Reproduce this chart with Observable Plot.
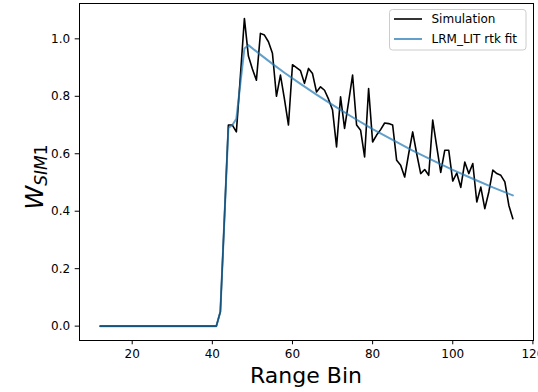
<!DOCTYPE html>
<html><head><meta charset="utf-8">
<script src="https://cdn.jsdelivr.net/npm/d3@7"></script>
<script src="https://cdn.jsdelivr.net/npm/@observablehq/plot@0.6"></script>
<style>body{margin:0;background:#fff;} #chart svg{display:block}</style>
</head><body><div id="chart"></div>
<script>
// Range bins start at 12 (one value per bin)
const startBin = 12;
const simValues = [
  0,0,0,0,0,0,0,0,0,0, 0,0,0,0,0,0,0,0,0,0, 0,0,0,0,0,0,0,0,0,0,
  0.05, 0.37, 0.70, 0.70, 0.676, 0.87, 1.071, 0.94, 0.895, 0.856,
  1.019, 1.013, 0.99, 0.95, 0.80, 0.874, 0.79, 0.70, 0.91, 0.90,
  0.889, 0.845, 0.897, 0.879, 0.815, 0.833, 0.821, 0.79, 0.752, 0.624,
  0.798, 0.688, 0.78, 0.874, 0.70, 0.682, 0.589, 0.827, 0.641, 0.665,
  0.684, 0.707, 0.705, 0.70, 0.577, 0.56, 0.519, 0.60, 0.676, 0.60,
  0.531, 0.545, 0.525, 0.717, 0.625, 0.535, 0.612, 0.612, 0.505, 0.533,
  0.483, 0.571, 0.531, 0.566, 0.432, 0.484, 0.409, 0.467, 0.543, 0.531,
  0.525, 0.502, 0.42, 0.374
];
const fitBins   = [12, 41, 42, 43, 44, 45, 46, 47, 48, 49, 52, 55, 58, 62, 66, 70, 75, 80, 85, 90, 95, 100, 105, 110, 115];
const fitValues = [0, 0, 0.05, 0.37, 0.69, 0.70, 0.722, 0.845, 0.966, 0.978, 0.945, 0.913, 0.882, 0.843, 0.806, 0.770, 0.727, 0.686, 0.648, 0.611, 0.577, 0.544, 0.513, 0.483, 0.455];
const xTicks = [20, 40, 60, 80, 100, 120];
const yTicks = [0, 0.2, 0.4, 0.6, 0.8, 1.0];
const seriesNames = ["Simulation", "LRM_LIT rtk fit"];
const seriesColors = ["black", "#1f77b4"];

const sim = simValues.map((v, i) => ({bin: startBin + i, value: v}));
const fit = fitBins.map((b, i) => ({bin: b, value: fitValues[i]}));

const svg = Plot.plot({
  width: 538, height: 392,
  marginLeft: 79, marginRight: 5, marginTop: 3, marginBottom: 52,
  style: {fontFamily: "DejaVu Sans", fontSize: "12px", color: "black", background: "white", overflow: "hidden"},
  x: {domain: [6.85, 120.15], ticks: xTicks, tickSize: 4.3, tickPadding: 5, label: null, tickFormat: "d"},
  y: {domain: [-0.05, 1.123], ticks: yTicks, tickSize: 4.3, tickPadding: 5, label: null, tickFormat: ".1f"},
  marks: [
    Plot.lineY(sim, {x: "bin", y: "value", stroke: seriesColors[0], strokeWidth: 1.6}),
    Plot.lineY(fit, {x: "bin", y: "value", stroke: seriesColors[1], strokeOpacity: 0.7, strokeWidth: 2}),
    Plot.frame({stroke: "black", strokeWidth: 1})
  ]
});
document.getElementById("chart").appendChild(svg);

const s = d3.select(svg);
// x label
s.append("text").attr("x", 306).attr("y", 383).attr("text-anchor", "middle")
  .attr("font-size", 22).attr("fill", "black").text("Range Bin");
// y label W_{SIM1}
const yl = s.append("text").attr("transform", "translate(43,177) rotate(-90)")
  .attr("text-anchor", "middle").attr("fill", "black");
yl.append("tspan").attr("font-style", "italic").attr("font-size", 24).text("W");
yl.append("tspan").attr("font-style", "italic").attr("font-size", 17).attr("dy", 4).text("SIM");
yl.append("tspan").attr("font-size", 17).text("1");
// legend
const lg = s.append("g").attr("text-anchor", "start");
lg.append("rect").attr("x", 389.5).attr("y", 9.5).attr("width", 136.5).attr("height", 40.5)
  .attr("rx", 3).attr("fill", "white").attr("fill-opacity", 0.8).attr("stroke", "#cccccc");
seriesNames.forEach((name, i) => {
  const y = 19 + i * 20;
  lg.append("line").attr("x1", 394).attr("x2", 422).attr("y1", y).attr("y2", y)
    .attr("stroke", seriesColors[i]).attr("stroke-width", i ? 2 : 1.6).attr("stroke-opacity", i ? 0.7 : 1);
  lg.append("text").attr("x", 431.5).attr("y", y + 4.3).attr("font-size", 12)
    .attr("text-anchor", "start").attr("fill", "black").text(name);
});
</script>
</body></html>
